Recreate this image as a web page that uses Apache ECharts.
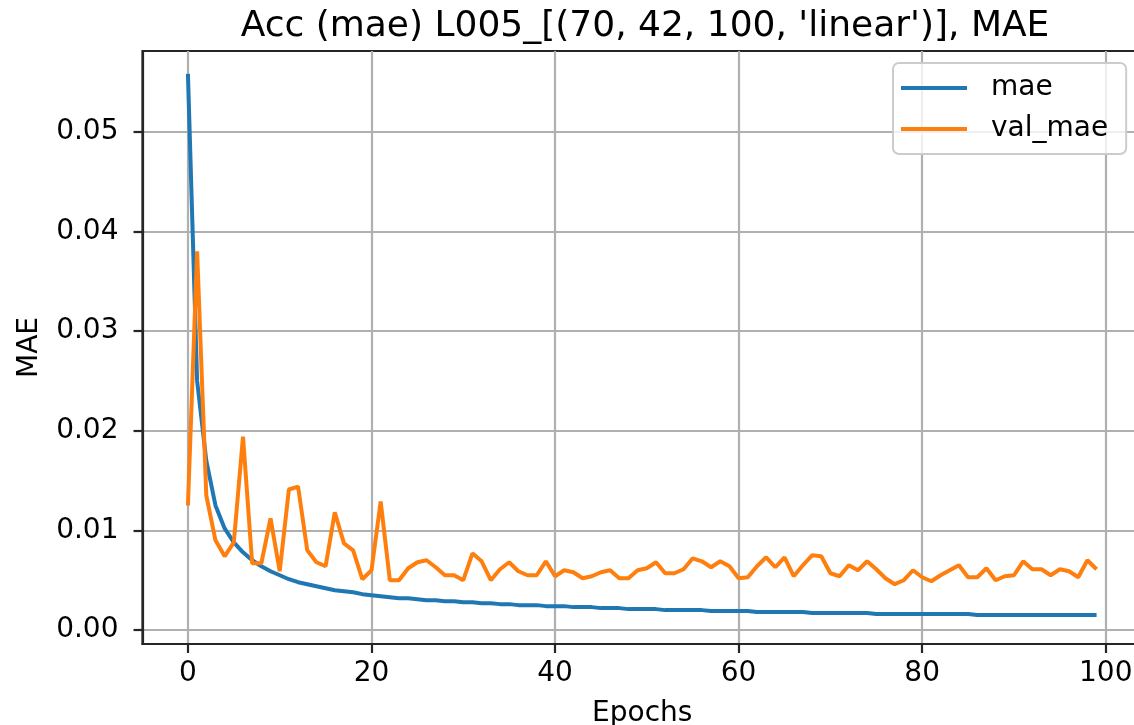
<!DOCTYPE html>
<html>
<head>
<meta charset="utf-8">
<script src="https://cdn.jsdelivr.net/npm/echarts@6/dist/echarts.min.js"></script>
<style>
  html, body { margin: 0; padding: 0; background: #fff; }
  #chart { width: 1134px; height: 725px; }
</style>
</head>
<body>
<div id="chart"></div>
<script>
// epochs 0..99
const epochs = []
for (let i = 0; i < 100; i++) epochs.push(i)

const mae = [
  0.0558, 0.0250, 0.0170, 0.0125, 0.0102, 0.0088, 0.0078, 0.0070, 0.0064, 0.0059,
  0.0055, 0.0051, 0.0048, 0.0046, 0.0044, 0.0042, 0.0040, 0.0039, 0.0038, 0.0036,
  0.0035, 0.0034, 0.0033, 0.0032, 0.0032, 0.0031, 0.0030, 0.0030, 0.0029, 0.0029,
  0.0028, 0.0028, 0.0027, 0.0027, 0.0026, 0.0026, 0.0025, 0.0025, 0.0025, 0.0024,
  0.0024, 0.0024, 0.0023, 0.0023, 0.0023, 0.0022, 0.0022, 0.0022, 0.0021, 0.0021,
  0.0021, 0.0021, 0.0020, 0.0020, 0.0020, 0.0020, 0.0020, 0.0019, 0.0019, 0.0019,
  0.0019, 0.0019, 0.0018, 0.0018, 0.0018, 0.0018, 0.0018, 0.0018, 0.0017, 0.0017,
  0.0017, 0.0017, 0.0017, 0.0017, 0.0017, 0.0016, 0.0016, 0.0016, 0.0016, 0.0016,
  0.0016, 0.0016, 0.0016, 0.0016, 0.0016, 0.0016, 0.0015, 0.0015, 0.0015, 0.0015,
  0.0015, 0.0015, 0.0015, 0.0015, 0.0015, 0.0015, 0.0015, 0.0015, 0.0015, 0.0015
]

const valMae = [
  0.0125, 0.0380, 0.0135, 0.0090, 0.0074, 0.0088, 0.0194, 0.0067, 0.0067, 0.0112,
  0.0059, 0.0141, 0.0144, 0.0080, 0.0068, 0.0064, 0.0118, 0.0087, 0.0080, 0.0051,
  0.0060, 0.0129, 0.0050, 0.0050, 0.0062, 0.0068, 0.0070, 0.0063, 0.0055, 0.0055,
  0.0050, 0.0077, 0.0069, 0.0050, 0.0061, 0.0068, 0.0059, 0.0055, 0.0055, 0.0069,
  0.0054, 0.0060, 0.0058, 0.0052, 0.0054, 0.0058, 0.0060, 0.0052, 0.0052, 0.0060,
  0.0062, 0.0068, 0.0057, 0.0057, 0.0061, 0.0072, 0.0069, 0.0063, 0.0069, 0.0064,
  0.0052, 0.0053, 0.0064, 0.0073, 0.0063, 0.0073, 0.0054, 0.0065, 0.0075, 0.0074,
  0.0057, 0.0054, 0.0065, 0.0060, 0.0069, 0.0061, 0.0052, 0.0046, 0.0050, 0.0060,
  0.0053, 0.0049, 0.0055, 0.0060, 0.0065, 0.0053, 0.0053, 0.0062, 0.0050, 0.0054,
  0.0055, 0.0069, 0.0061, 0.0061, 0.0055, 0.0061, 0.0059, 0.0053, 0.0070, 0.0061
]

const xTicks = [0, 20, 40, 60, 80, 100]
const yTicks = [0, 0.01, 0.02, 0.03, 0.04, 0.05]

const FONT = 'DejaVu Sans'
const INK = '#262626'
const GRID = '#b0b0b0'

const chart = echarts.init(document.getElementById('chart'))

chart.setOption({
  animation: false,
  backgroundColor: '#ffffff',
  title: {
    text: "Acc (mae) L005_[(70, 42, 100, 'linear')], MAE",
    left: 640,
    textAlign: 'center',
    top: 4,
    textStyle: { fontFamily: FONT, fontSize: 36, fontWeight: 'normal', color: '#000' },
  },
  legend: {
    data: ['mae', 'val_mae'],
    orient: 'vertical',
    left: 893,
    top: 63,
    padding: [11, 18, 11, 8],
    icon: 'rect',
    itemWidth: 66,
    itemHeight: 4,
    itemGap: 13,
    backgroundColor: 'rgba(255,255,255,0.8)',
    borderColor: '#cccccc',
    borderWidth: 2,
    borderRadius: 6,
    textStyle: { fontFamily: FONT, fontSize: 28, color: '#000', padding: [0, 0, 0, 19] },
  },
  grid: {
    left: 142.5,
    right: -8,
    top: 51,
    bottom: 81,
    outerBoundsMode: 'none',
    containLabel: false,
    show: true,
    borderColor: INK,
    borderWidth: 2.2,
    backgroundColor: 'transparent',
  },
  xAxis: {
    type: 'value',
    min: -4.95,
    max: 103.95,
    name: 'Epochs',
    nameLocation: 'middle',
    nameGap: 56,
    nameTextStyle: { fontFamily: FONT, fontSize: 28, color: '#000' },
    axisLine: { show: true, onZero: false, lineStyle: { color: INK, width: 2.2 } },
    axisTick: { show: true, length: 9, customValues: xTicks, lineStyle: { color: INK, width: 2.2 } },
    axisLabel: {
      customValues: xTicks,
      margin: 16,
      fontFamily: FONT,
      fontSize: 28,
      color: '#000',
    },
    splitLine: { show: true, lineStyle: { color: GRID, width: 2.2 } },
  },
  yAxis: {
    type: 'value',
    min: -0.0014,
    max: 0.0581,
    name: 'MAE',
    nameLocation: 'middle',
    nameGap: 99,
    nameTextStyle: { fontFamily: FONT, fontSize: 28, color: '#000' },
    axisLine: { show: true, onZero: false, lineStyle: { color: INK, width: 2.2 } },
    axisTick: { show: true, length: 9, customValues: yTicks, lineStyle: { color: INK, width: 2.2 } },
    axisLabel: {
      customValues: yTicks,
      margin: 24,
      fontFamily: FONT,
      fontSize: 28,
      color: '#000',
      formatter: (v) => v.toFixed(2),
    },
    splitLine: { show: true, lineStyle: { color: GRID, width: 2.2 } },
  },
  series: [
    {
      name: 'mae',
      type: 'line',
      data: epochs.map((e, i) => [e, mae[i]]),
      symbol: 'none',
      color: '#1f77b4',
      lineStyle: { width: 4, color: '#1f77b4' },
    },
    {
      name: 'val_mae',
      type: 'line',
      data: epochs.map((e, i) => [e, valMae[i]]),
      symbol: 'none',
      color: '#ff7f0e',
      lineStyle: { width: 4, color: '#ff7f0e' },
    },
  ],
})
</script>
</body>
</html>
